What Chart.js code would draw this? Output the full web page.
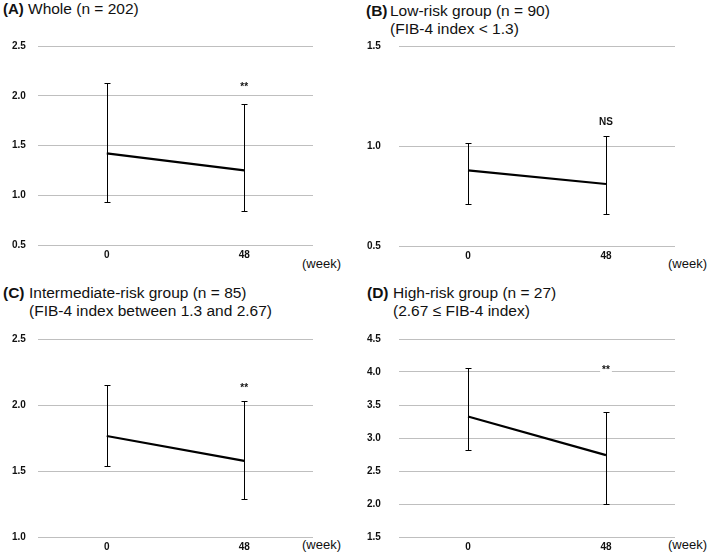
<!DOCTYPE html>
<html>
<head>
<meta charset="utf-8">
<script src="https://cdn.jsdelivr.net/npm/chart.js@4.4.1/dist/chart.umd.min.js"></script>
<style>
  html, body { margin:0; padding:0; background:#fff; }
  #wrap { position:relative; width:709px; height:559px; overflow:hidden; font-family:"Liberation Sans", Arial, sans-serif; color:#111; }
  canvas { position:absolute; }
  .t { position:absolute; white-space:nowrap; line-height:18px; }
  .b { font-weight:bold; }
  .wk { position:absolute; font-size:13px; line-height:14px; white-space:nowrap; }
</style>
</head>
<body>
<div id="wrap">
  <div class="t b" style="left:3px;top:0px;font-size:15px;">(A)</div>
  <div class="t" style="left:28px;top:0px;font-size:15.5px;">Whole (n = 202)</div>

  <div class="t b" style="left:366px;top:2px;font-size:15.5px;">(B)</div>
  <div class="t" style="left:390px;top:2px;font-size:15.5px;">Low-risk group (n = 90)</div>
  <div class="t" style="left:390px;top:20px;font-size:15.5px;">(FIB-4 index &lt; 1.3)</div>

  <div class="t b" style="left:3px;top:284px;font-size:15.5px;">(C)</div>
  <div class="t" style="left:29px;top:284px;font-size:15.5px;">Intermediate-risk group (n = 85)</div>
  <div class="t" style="left:29px;top:302px;font-size:15.5px;">(FIB-4 index between 1.3 and 2.67)</div>

  <div class="t b" style="left:367px;top:284px;font-size:15.5px;">(D)</div>
  <div class="t" style="left:393px;top:284px;font-size:15.5px;">High-risk group (n = 27)</div>
  <div class="t" style="left:393px;top:302px;font-size:15.5px;">(2.67 ≤ FIB-4 index)</div>

  <div class="wk" style="left:302px;top:257px;">(week)</div>
  <div class="wk" style="left:668px;top:257px;">(week)</div>
  <div class="wk" style="left:302px;top:538px;">(week)</div>
  <div class="wk" style="left:668px;top:538px;">(week)</div>

  <canvas id="cA" style="left:0px;top:30px;"></canvas>
  <canvas id="cB" style="left:354px;top:30px;"></canvas>
  <canvas id="cC" style="left:0px;top:320px;"></canvas>
  <canvas id="cD" style="left:354px;top:320px;"></canvas>
</div>
<script>
// ---- data ----
const weeks = ['0', '48'];

const meanA = [1.42, 1.25];
const lowA  = [0.93, 0.84];
const highA = [2.13, 1.92];
const noteA = '**';
const noteYA = 2.09;

const meanB = [0.878, 0.81];
const lowB  = [0.708, 0.66];
const highB = [1.017, 1.052];
const noteB = 'NS';
const noteYB = 1.12;

const meanC = [1.765, 1.577];
const lowC  = [1.54, 1.29];
const highC = [2.154, 2.033];
const noteC = '**';
const noteYC = 2.13;

const meanD = [3.325, 2.74];
const lowD  = [2.814, 2.0];
const highD = [4.055, 3.394];
const noteD = '**';
const noteYD = 4.02;

const ticksA = [0.5, 2.5];
const ticksB = [0.5, 1.5];
const ticksC = [1.0, 2.5];
const ticksD = [1.5, 4.5];

// ---- error bar plugin ----
const errPlugin = {
  id: 'errbars',
  afterDatasetsDraw(chart) {
    const o = chart.options.plugins.errbars;
    const ctx = chart.ctx, x = chart.scales.x, y = chart.scales.y;
    ctx.save();
    ctx.strokeStyle = '#000';
    ctx.lineWidth = 1;
    o.low.forEach((lo, i) => {
      const px = Math.round(x.getPixelForValue(i)) + 0.5;
      const yl = Math.round(y.getPixelForValue(lo)) + 0.5;
      const yh = Math.round(y.getPixelForValue(o.high[i])) + 0.5;
      ctx.beginPath();
      ctx.moveTo(px, yl); ctx.lineTo(px, yh);
      ctx.moveTo(px - 3, yl); ctx.lineTo(px + 3, yl);
      ctx.moveTo(px - 3, yh); ctx.lineTo(px + 3, yh);
      ctx.stroke();
    });
    const nx = x.getPixelForValue(1), ny = y.getPixelForValue(o.noteY);
    ctx.font = 'bold 10px "Liberation Sans", Arial, sans-serif';
    ctx.textAlign = 'center';
    ctx.textBaseline = 'middle';
    const tw = ctx.measureText(o.note).width;
    ctx.fillStyle = '#fff';
    ctx.fillRect(nx - tw / 2 - 2, ny - 5, tw + 4, 10);
    ctx.fillStyle = '#111';
    ctx.fillText(o.note, nx, ny);
    ctx.restore();
  }
};

function makeChart(id, w, h, mean, low, high, note, noteY, range, labelLeft, gridLeft, rightPad, topPad, xH) {
  const cv = document.getElementById(id);
  cv.width = w; cv.height = h;
  cv.style.width = w + 'px'; cv.style.height = h + 'px';
  return new Chart(cv, {
    type: 'line',
    data: {
      labels: weeks,
      datasets: [{
        data: mean,
        borderColor: '#000',
        borderWidth: 2.2,
        pointRadius: 0,
        tension: 0,
        fill: false
      }]
    },
    options: {
      responsive: false,
      animation: false,
      devicePixelRatio: 1,
      layout: { padding: { left: labelLeft, right: rightPad, top: topPad, bottom: 0 } },
      plugins: {
        legend: { display: false },
        tooltip: { enabled: false },
        errbars: { low: low, high: high, note: note, noteY: noteY }
      },
      scales: {
        x: {
          type: 'category',
          offset: true,
          grid: { display: false, drawTicks: false },
          border: { display: false },
          ticks: { color: '#111', font: { family: '"Liberation Sans", Arial, sans-serif', size: 10, weight: 'bold' }, padding: 4, maxRotation: 0 },
          afterFit(s) { s.height = xH; }
        },
        y: {
          min: range[0], max: range[1],
          grid: { color: '#bfbfbf', lineWidth: 1, drawTicks: false },
          border: { display: false },
          ticks: {
            stepSize: 0.5,
            color: '#111',
            padding: 0,
            crossAlign: 'far',
            font: { family: '"Liberation Sans", Arial, sans-serif', size: 10, weight: 'bold' },
            callback: v => Number(v).toFixed(1)
          },
          afterFit(s) { s.width = gridLeft - labelLeft; }
        }
      }
    },
    plugins: [errPlugin]
  });
}

makeChart('cA', 354, 250, meanA, lowA, highA, noteA, noteYA, ticksA, 12, 38, 41, 16, 35);
makeChart('cB', 355, 250, meanB, lowB, highB, noteB, noteYB, ticksB, 13, 45, 34, 16, 34);
makeChart('cC', 354, 239, meanC, lowC, highC, noteC, noteYC, ticksC, 12, 38, 41, 19, 22);
makeChart('cD', 355, 239, meanD, lowD, highD, noteD, noteYD, ticksD, 13, 45, 34, 19, 22);
</script>
</body>
</html>
